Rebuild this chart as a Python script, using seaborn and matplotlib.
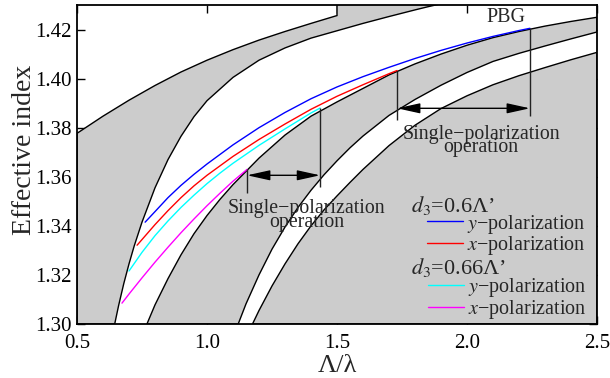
import matplotlib
matplotlib.use("Agg")
import matplotlib.pyplot as plt
import seaborn as sns
from matplotlib.lines import Line2D

# band edges (gray = bands, white = gaps)
a_x = [0.5, 0.6, 0.7, 0.8, 0.9, 1.0, 1.1, 1.2, 1.3, 1.4, 1.5]
a_y = [1.3777, 1.3847, 1.3912, 1.3972, 1.4027, 1.4075, 1.4118, 1.4157, 1.4192, 1.4225, 1.4257]

b_x = [0.645, 0.66, 0.68, 0.70, 0.72, 0.75, 0.80, 0.85, 0.90, 0.95, 1.0, 1.1, 1.2, 1.3, 1.4,
       1.5, 1.6, 1.7, 1.8, 1.85, 1.9]
b_y = [1.3000, 1.3075, 1.3165, 1.3245, 1.3318, 1.3415, 1.3555, 1.3670, 1.3765, 1.3845, 1.3910,
       1.4005, 1.4075, 1.4125, 1.4165, 1.4195, 1.4225, 1.4253, 1.4280, 1.4293, 1.4305]

c_x = [0.769, 0.8, 0.85, 0.9, 0.95, 1.0, 1.05, 1.1, 1.15, 1.2, 1.3, 1.4, 1.5, 1.6, 1.7, 1.8,
       1.9, 2.0, 2.1, 2.2, 2.3, 2.4, 2.5]
c_y = [1.3000, 1.3078, 1.3185, 1.3282, 1.3368, 1.3442, 1.3508, 1.3568, 1.3622, 1.3676, 1.3770,
       1.3847, 1.3905, 1.3960, 1.4015, 1.4060, 1.4100, 1.4136, 1.4167, 1.4192, 1.4214, 1.4233, 1.4250]

d_x = [1.12, 1.15, 1.2, 1.25, 1.3, 1.35, 1.4, 1.45, 1.5, 1.55, 1.6, 1.7, 1.8, 1.9, 2.0, 2.1,
       2.2, 2.3, 2.4, 2.5]
d_y = [1.3000, 1.3082, 1.3200, 1.3305, 1.3395, 1.3475, 1.3545, 1.3608, 1.3665, 1.3718, 1.3766,
       1.3850, 1.3915, 1.3973, 1.4025, 1.4070, 1.4103, 1.4133, 1.4162, 1.4190]

e_x = [1.175, 1.2, 1.25, 1.3, 1.35, 1.4, 1.45, 1.5, 1.55, 1.6, 1.7, 1.8, 1.9, 2.0, 2.1, 2.2,
       2.3, 2.4, 2.5]
e_y = [1.3000, 1.3055, 1.3155, 1.3245, 1.3327, 1.3400, 1.3465, 1.3522, 1.3577, 1.3630, 1.3727,
       1.3810, 1.3878, 1.3930, 1.3975, 1.4012, 1.4045, 1.4077, 1.4107]

# guided modes
blue_x = [0.762, 0.80, 0.85, 0.90, 0.95, 1.00, 1.10, 1.20, 1.30, 1.40, 1.50, 1.60, 1.70, 1.80,
          1.90, 2.00, 2.10, 2.20, 2.242]
blue_y = [1.3415, 1.3458, 1.3515, 1.3565, 1.3610, 1.3652, 1.3730, 1.3800, 1.3862, 1.3918, 1.3966,
          1.4008, 1.4046, 1.4082, 1.4115, 1.4145, 1.4172, 1.4196, 1.4205]

red_x = [0.731, 0.80, 0.85, 0.90, 0.95, 1.00, 1.10, 1.20, 1.30, 1.40, 1.50, 1.60, 1.70, 1.731]
red_y = [1.3321, 1.3405, 1.3462, 1.3515, 1.3563, 1.3606, 1.3683, 1.3752, 1.3815, 1.3875, 1.3928,
         1.3975, 1.4020, 1.4033]

cyan_x = [0.70, 0.75, 0.80, 0.85, 0.90, 0.95, 1.00, 1.05, 1.10, 1.20, 1.30, 1.40, 1.435]
cyan_y = [1.3216, 1.3292, 1.3360, 1.3420, 1.3475, 1.3525, 1.3572, 1.3615, 1.3655, 1.3728, 1.3795,
          1.3860, 1.3880]

mag_x = [0.673, 0.70, 0.75, 0.80, 0.85, 0.90, 0.95, 1.00, 1.05, 1.10, 1.154]
mag_y = [1.3085, 1.3122, 1.3188, 1.3252, 1.3313, 1.3372, 1.3428, 1.3482, 1.3533, 1.3582, 1.3630]

# single-polarization markers
sp_x = [1.154, 1.435, 1.731, 2.242]
sp_top = [mag_y[-1], cyan_y[-1], red_y[-1], blue_y[-1]]
sp_bottom = [1.3533, 1.3557, 1.3830, 1.3846]
arrow_y = [1.3606, 1.3879]

x_ticks = [0.5, 1.0, 1.5, 2.0, 2.5]
y_ticks = [1.30, 1.32, 1.34, 1.36, 1.38, 1.40, 1.42]

sns.set_style("ticks")
plt.rcParams["font.family"] = ["Liberation Serif", "DejaVu Serif"]
plt.rcParams["mathtext.fontset"] = "stix"

fig = plt.figure(figsize=(6.1, 3.78), dpi=100)
ax = fig.add_axes([77 / 610, 54 / 378, 520 / 610, 319 / 378])

y_lo, y_hi = 1.30, 1.43
gray = "#cccccc"

band1_x = a_x + [a_x[-1], b_x[-1]] + b_x[::-1] + [a_x[0]]
band1_y = a_y + [y_hi + 0.01, y_hi + 0.01] + b_y[::-1] + [y_lo]
band2_x = c_x + d_x[::-1]
band2_y = c_y + d_y[::-1]
band3_x = e_x + [e_x[-1]]
band3_y = e_y + [y_lo]
for bx, by in [(band1_x, band1_y), (band2_x, band2_y), (band3_x, band3_y)]:
    ax.fill(bx, by, facecolor=gray, edgecolor="black", linewidth=1.0, zorder=1)

modes = [(blue_x, blue_y, "#0000ff"), (red_x, red_y, "#ff0000"),
         (cyan_x, cyan_y, "#00ffff"), (mag_x, mag_y, "#ff00ff")]
for mx, my, col in modes:
    sns.lineplot(x=mx, y=my, color=col, linewidth=1.0, ax=ax, sort=False,
                 estimator=None, zorder=3)

ax.vlines(sp_x, sp_bottom, sp_top, color="#222222", linewidth=1.0, zorder=4)
for i, yy in enumerate(arrow_y):
    ax.annotate("", xy=(sp_x[2 * i + 1], yy), xytext=(sp_x[2 * i], yy),
                arrowprops=dict(arrowstyle="<|-|>,head_length=1.0,head_width=0.22",
                                color="black", lw=1.0, shrinkA=0, shrinkB=0,
                                mutation_scale=14), zorder=4)

note = "Single\u2212polarization\noperation"
ax.text(1.383, 1.3395, note, ha="center", va="baseline", fontsize=14.3,
        linespacing=0.62, multialignment="center")
ax.text(2.054, 1.3700, note, ha="center", va="baseline", fontsize=14.3,
        linespacing=0.62, multialignment="center")
ax.text(2.15, 1.4229, "PBG", ha="center", va="baseline", fontsize=14.5)

# legend blocks
ax.text(1.785, 1.3456, "$d_3$=0.6\u039b\u2019", ha="left", va="baseline", fontsize=16)
ax.text(1.785, 1.3205, "$d_3$=0.66\u039b\u2019", ha="left", va="baseline", fontsize=16)
leg_kw = dict(frameon=False, fontsize=14.5, handlelength=1.8, handletextpad=0.2,
              labelspacing=-0.05, borderpad=0, borderaxespad=0, loc="center left")
h1 = [Line2D([], [], color="#0000ff", lw=1), Line2D([], [], color="#ff0000", lw=1)]
h2 = [Line2D([], [], color="#00ffff", lw=1), Line2D([], [], color="#ff00ff", lw=1)]
labels = ["$y$\u2212polarization", "$x$\u2212polarization"]
leg1 = ax.legend(h1, labels, bbox_to_anchor=(0.673, 0.279), **leg_kw)
ax.add_artist(leg1)
ax.legend(h2, labels, bbox_to_anchor=(0.675, 0.080), **leg_kw)

ax.set_xlim(0.5, 2.5)
ax.set_ylim(y_lo, y_hi)
ax.set_xticks(x_ticks)
ax.set_xticklabels([f"{v:.1f}" for v in x_ticks])
ax.set_yticks(y_ticks)
ax.set_yticklabels([f"{v:.2f}" for v in y_ticks])
ax.tick_params(direction="in", top=True, right=True, length=6, width=1.0,
               labelsize=15, colors="black")
ax.tick_params(axis="x", pad=7)
ax.tick_params(axis="y", pad=4)
for s in ax.spines.values():
    s.set_linewidth(1.3)
    s.set_color("black")
    s.set_zorder(5)

ax.set_xlabel("\u039b/\u03bb", fontsize=19, labelpad=2)
ax.set_ylabel("Effective index", fontsize=20)
ax.yaxis.set_label_coords(-0.077, 0.545)

fig.savefig("out.png", dpi=100)
